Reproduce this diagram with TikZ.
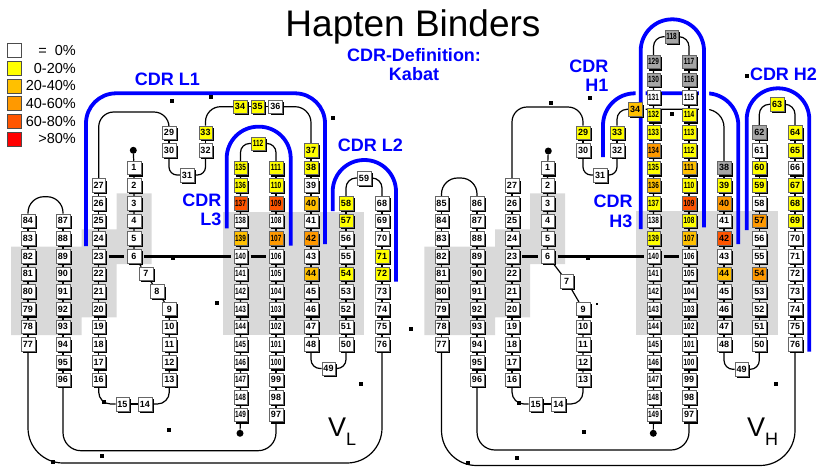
\documentclass[tikz,border=0pt]{standalone}
\usepackage{fontspec}
\setmainfont{Liberation Sans}
\usetikzlibrary{shadows}

\definecolor{c0}{HTML}{FFFFFF}
\definecolor{c20}{HTML}{FFFF00}
\definecolor{c40}{HTML}{FFC000}
\definecolor{c60}{HTML}{FF9900}
\definecolor{c80}{HTML}{FF5500}
\definecolor{c100}{HTML}{FF0000}
\definecolor{cna}{HTML}{A6A6A6}
\definecolor{cdrblue}{HTML}{0000FF}

\pgfdeclarelayer{background}
\pgfsetlayers{background,main}
\newcommand\lbl[1]{\ifnum#1>99 \scalebox{0.72}[1]{#1}\else#1\fi}

\begin{document}
\begin{tikzpicture}[x=1pt, y=-1pt,
    res/.style={draw=black!60, line width=0.5pt, fill=c0, minimum width=13.5pt, minimum height=13.5pt, inner sep=0pt, font=\fontsize{9}{9}\selectfont\bfseries, drop shadow={shadow xshift=2pt, shadow yshift=-2pt, fill=black, opacity=1}},
    keybox/.style={draw=black!70, line width=0.6pt, minimum size=14pt, inner sep=0pt},
    keytext/.style={anchor=east, font=\fontsize{14.5}{15}\selectfont, inner sep=0pt},
    link/.style={line width=1.2pt},
    bond/.style={line width=3pt, shorten <=3pt, shorten >=3pt},
    cdrline/.style={cdrblue, line width=3.8pt},
    cdrlabel/.style={cdrblue, font=\fontsize{18}{19.5}\selectfont\bfseries, align=right, inner sep=0pt},
    region/.style={fill=black!15},
    terminus/.style={circle, fill=black, minimum size=7pt, inner sep=0pt},
    speck/.style={fill=black, minimum size=4pt, inner sep=0pt}
  ]
    \useasboundingbox (0,0) rectangle (825,467);
    \node[font=\fontsize{37}{38}\selectfont, anchor=base] (title) at (413,36.7) {Hapten Binders};

    \foreach \c/\txt [count=\k from 0] in {c0/{=\ \ 0\%}, c20/0-20\%, c40/20-40\%, c60/40-60\%, c80/60-80\%, c100/{>80\%}} {
      \node[keybox, fill=\c] (key\k) at (14.5,{50.5+17.7*\k}) {};
      \node[keytext] (keytext\k) at (76,{50.5+17.7*\k}) {\txt};
    }

    \node[cdrlabel, align=center] (defn) at (414,64.5) {CDR-Definition:\\Kabat};
    \node[cdrlabel] (cdrL1) at (167.3,79) {CDR L1};
    \node[cdrlabel] (cdrL2) at (370.3,145.7) {CDR L2};
    \node[cdrlabel, anchor=east] (cdrL3) at (221.5,210) {CDR\\L3};
    \node[cdrlabel, anchor=east] (cdrH1) at (608.5,75.7) {CDR\\H1};
    \node[cdrlabel, anchor=east] (cdrH3) at (632.7,211.2) {CDR\\H3};
    \node[cdrlabel] (cdrH2) at (783.5,74) {CDR H2};
    \node[anchor=base west, inner sep=0pt, font=\fontsize{27}{28}\selectfont] (vl) at (328,436.7) {V\raisebox{-8.3pt}{\fontsize{18}{18}\selectfont L}};
    \node[anchor=base west, inner sep=0pt, font=\fontsize{27}{28}\selectfont] (vh) at (747,436.7) {V\raisebox{-8.3pt}{\fontsize{18}{18}\selectfont H}};

    % V_L
    \foreach \n [count=\i from -2] in {84,...,77} \node[res] (L\n) at (28,{256+17.65*(\i)}) {\lbl{\n}};
    \foreach \n [count=\i from -2] in {87,...,96} \node[res] (L\n) at (63,{256+17.65*(\i)}) {\lbl{\n}};
    \foreach \n [count=\i from -4] in {27,...,16} \node[res] (L\n) at (98.7,{256+17.65*(\i)}) {\lbl{\n}};
    \foreach \n [count=\i from -5] in {1,...,6} \node[res] (L\n) at (134,{256+17.65*(\i)}) {\lbl{\n}};
    \node[res] (L7) at (146,273.65) {7};
    \node[res] (L8) at (157,291.3) {8};
    \foreach \n [count=\i from 3] in {9,...,13} \node[res] (L\n) at (169.3,{256+17.65*(\i)}) {\lbl{\n}};
    \node[res] (L14) at (145,404) {14};
    \node[res] (L15) at (122.5,404) {15};
    \node[res] (L29) at (169,132.7) {29};
    \node[res] (L30) at (169,150.3) {30};
    \node[res] (L31) at (187,175) {31};
    \node[res] (L32) at (205.5,150.3) {32};
    \node[res, fill=c20] (L33) at (205.5,132.7) {33};
    \node[res, fill=c20] (L34) at (240,106.7) {34};
    \node[res, fill=c20] (L35) at (257.5,106.7) {35};
    \node[res] (L36) at (275.3,106.7) {36};
    \node[res, fill=c20] (L112) at (258,143.5) {\lbl{112}};
    \foreach \n/\c [count=\i from -5] in {135/c20,136/c20,137/c80,138/c0,139/c40,140/c0,141/c0,142/c0,143/c0,144/c0,145/c0,146/c0,147/c0,148/c0,149/c0}
      \node[res, fill=\c] (L\n) at (240.5,{256+17.65*(\i)}) {\lbl{\n}};
    \foreach \n/\c [count=\i from -5] in {111/c20,110/c20,109/c80,108/c0,107/c60,106/c0,105/c0,104/c0,103/c0,102/c0,101/c0,100/c0,99/c0,98/c0,97/c0}
      \node[res, fill=\c] (L\n) at (276,{256+17.65*(\i)}) {\lbl{\n}};
    \foreach \n/\c [count=\i from -6] in {37/c20,38/c20,39/c0,40/c40,41/c0,42/c60,43/c0,44/c40,45/c0,46/c0,47/c0,48/c0}
      \node[res, fill=\c] (L\n) at (311,{256+17.65*(\i)}) {\lbl{\n}};
    \node[res] (L49) at (328.5,368.5) {49};
    \foreach \n/\c [count=\i from -3] in {58/c20,57/c20,56/c0,55/c0,54/c20,53/c0,52/c0,51/c0,50/c0}
      \node[res, fill=\c] (L\n) at (346,{256+17.65*(\i)}) {\lbl{\n}};
    \node[res] (L59) at (364,178) {59};
    \foreach \n/\c [count=\i from -3] in {68/c0,69/c0,70/c0,71/c20,72/c20,73/c0,74/c0,75/c0,76/c0}
      \node[res, fill=\c] (L\n) at (382,{256+17.65*(\i)}) {\lbl{\n}};
    \node[terminus] (Ltop) at (133.3,150.3) {};
    \node[terminus] (Lend) at (240,433.3) {};

    % V_H
    \foreach \n [count=\i from -3] in {85,...,77} \node[res] (H\n) at (441.5,{256+17.65*(\i)}) {\lbl{\n}};
    \foreach \n [count=\i from -3] in {86,...,96} \node[res] (H\n) at (477,{256+17.65*(\i)}) {\lbl{\n}};
    \foreach \n [count=\i from -4] in {27,...,16} \node[res] (H\n) at (512,{256+17.65*(\i)}) {\lbl{\n}};
    \foreach \n [count=\i from -5] in {1,...,6} \node[res] (H\n) at (547.5,{256+17.65*(\i)}) {\lbl{\n}};
    \node[res] (H7) at (566.7,281) {7};
    \foreach \n [count=\i from 3] in {9,...,13} \node[res] (H\n) at (583,{256+17.65*(\i)}) {\lbl{\n}};
    \node[res] (H14) at (558.3,404) {14};
    \node[res] (H15) at (535.7,404) {15};
    \node[res, fill=c20] (H29) at (583,132.7) {29};
    \node[res] (H30) at (583,150.3) {30};
    \node[res] (H31) at (600,175) {31};
    \node[res] (H32) at (617,150.3) {32};
    \node[res, fill=c20] (H33) at (617,132.7) {33};
    \node[res, fill=c40] (H34) at (635,109.3) {34};
    \node[res, fill=cna] (H118) at (671.5,36.7) {\lbl{118}};
    \foreach \n/\c [count=\i from -11] in {129/cna,130/cna,131/c0,132/c20,133/c20,134/c60,135/c20,136/c40,137/c20,138/c0,139/c20,140/c0,141/c0,142/c0,143/c0,144/c0,145/c0,146/c0,147/c0,148/c0,149/c0}
      \node[res, fill=\c] (H\n) at (653.5,{256+17.65*(\i)}) {\lbl{\n}};
    \foreach \n/\c [count=\i from -11] in {117/cna,116/cna,115/c0,114/c20,113/c20,112/c20,111/c40,110/c20,109/c80,108/c20,107/c40,106/c0,105/c0,104/c0,103/c0,102/c0,101/c0,100/c0,99/c0,98/c0,97/c0}
      \node[res, fill=\c] (H\n) at (689,{256+17.65*(\i)}) {\lbl{\n}};
    \foreach \n/\c [count=\i from -5] in {38/cna,39/c20,40/c60,41/c0,42/c80,43/c0,44/c40,45/c0,46/c0,47/c0,48/c0}
      \node[res, fill=\c] (H\n) at (724,{256+17.65*(\i)}) {\lbl{\n}};
    \node[res] (H49) at (741.7,369.3) {49};
    \foreach \n/\c [count=\i from -7] in {62/cna,61/c0,60/c20,59/c20,58/c0,57/c60,56/c0,55/c0,54/c60,53/c0,52/c0,51/c0,50/c0}
      \node[res, fill=\c] (H\n) at (759.3,{256+17.65*(\i)}) {\lbl{\n}};
    \node[res, fill=c20] (H63) at (777,104.3) {63};
    \foreach \n/\c [count=\i from -7] in {64/c20,65/c20,66/c0,67/c20,68/c20,69/c20,70/c0,71/c0,72/c0,73/c0,74/c0,75/c0,76/c0}
      \node[res, fill=\c] (H\n) at (795,{256+17.65*(\i)}) {\lbl{\n}};
    \node[terminus] (Htop) at (548.3,151) {};
    \node[terminus] (Hend) at (653.3,433.3) {};

    \foreach \x/\y [count=\k] in {171.7/100.7, 210.7/96.7, 332.7/117.7, 173/258.3, 217.3/302.7, 410.7/329.3, 360.7/384, 104.3/401.7, 169.3/430, 102.3/456, 52.7/461.7,
        551/102.7, 590/97.7, 672.3/114.3, 746.7/76, 588.3/258.3, 519.3/403.3, 775.7/384, 584.3/431.7, 517.3/457.7, 468.3/463.3}
      \node[speck] (s\k) at (\x,\y) {};
    \node[fill=black, minimum size=2pt, inner sep=0pt] (s22) at (597.3,304) {};

    \begin{pgfonlayer}{background}
      \foreach \dx in {0,413.3}
        \fill[region, shift={(\dx,0)}] (11,246.7) -- (81.7,246.7) -- (81.7,229.3) -- (116.7,229.3) -- (116.7,193.3) -- (151.7,193.3) -- (151.7,264) -- (116.7,264) -- (116.7,317.3) -- (81.7,317.3) -- (81.7,335) -- (11,335) -- cycle;
      \fill[region] (222.7,211.7) rectangle (364,335);
      \fill[region] (635.7,210.7) rectangle (777.7,335);

      \draw[link] (L84) -- (L77);
      \draw[link] (L87) -- (L96);
      \draw[link] (L27) -- (L16);
      \draw[link] (Ltop) -- (L1) -- (L6) -- (L7) -- (L8) -- (L9) -- (L13);
      \draw[link] (L29) -- (L30);
      \draw[link] (L32) -- (L33);
      \draw[link] (L34) -- (L36);
      \draw[link] (L135) -- (L149) -- (Lend);
      \draw[link] (L111) -- (L97);
      \draw[link] (L37) -- (L48);
      \draw[link] (L58) -- (L50);
      \draw[link] (L68) -- (L76);
      \draw[link] (L15) -- (L14);
      \draw[link, rounded corners=16pt] (L84.north) |- (L87.north |- 0,196.7) -- (L87.north);
      \draw[link, rounded corners=35pt] (L77.south) |- (L76.south |- 0,463) -- (L76.south);
      \draw[link, rounded corners=18pt] (L96.south) |- (L97.south |- 0,450.7) -- (L97.south);
      \draw[link, rounded corners=12pt] (L16.south) |- (L15.west);
      \draw[link, rounded corners=12pt] (L14.east) -| (L13.south);
      \draw[link, rounded corners=15pt] (L27.north) |- (L29.north |- 0,112) -- (L29.north);
      \draw[link, rounded corners=8pt] (L30.south) |- (L31.west);
      \draw[link, rounded corners=8pt] (L31.east) -| (L32.south);
      \draw[link, rounded corners=15pt] (L33.north) |- (L34.west);
      \draw[link, rounded corners=16pt] (L36.east) -| (L37.north);
      \draw[link, rounded corners=9pt] (L135.north) |- (L112.west);
      \draw[link, rounded corners=9pt] (L112.east) -| (L111.north);
      \draw[link, rounded corners=9pt] (L48.south) |- (L49.west);
      \draw[link, rounded corners=9pt] (L49.east) -| (L50.south);
      \draw[link, rounded corners=10pt] (L58.north) |- (L59.west);
      \draw[link, rounded corners=10pt] (L59.east) -| (L68.north);
      \draw[bond] (L23) -- (L6);
      \draw[bond] (L6) -- (L140);
      \draw[bond] (L140) -- (L106);

      \draw[link] (H85) -- (H77);
      \draw[link] (H86) -- (H96);
      \draw[link] (H27) -- (H16);
      \draw[link] (Htop) -- (H1) -- (H6) -- (H7) -- (H9) -- (H13);
      \draw[link] (H29) -- (H30);
      \draw[link] (H32) -- (H33);
      \draw[link] (H129) -- (H149) -- (Hend);
      \draw[link] (H117) -- (H97);
      \draw[link] (H38) -- (H48);
      \draw[link] (H62) -- (H50);
      \draw[link] (H64) -- (H76);
      \draw[link] (H15) -- (H14);
      \draw[link, rounded corners=16pt] (H85.north) |- (H86.north |- 0,178) -- (H86.north);
      \draw[link, rounded corners=35pt] (H77.south) |- (H76.south |- 0,465.5) -- (H76.south);
      \draw[link, rounded corners=18pt] (H96.south) |- (H97.south |- 0,450) -- (H97.south);
      \draw[link, rounded corners=12pt] (H16.south) |- (H15.west);
      \draw[link, rounded corners=12pt] (H14.east) -| (H13.south);
      \draw[link, rounded corners=15pt] (H27.north) |- (H29.north |- 0,107) -- (H29.north);
      \draw[link, rounded corners=8pt] (H30.south) |- (H31.west);
      \draw[link, rounded corners=8pt] (H31.east) -| (H32.south);
      \draw[link, rounded corners=10pt] (H33.north) |- (H34.west);
      \draw[link, rounded corners=18pt] (H34.east) -| (H38.north);
      \draw[link, rounded corners=10pt] (H129.north) |- (H118.west);
      \draw[link, rounded corners=10pt] (H118.east) -| (H117.north);
      \draw[link, rounded corners=10pt] (H62.north) |- (H63.west);
      \draw[link, rounded corners=10pt] (H63.east) -| (H64.north);
      \draw[link, rounded corners=9pt] (H48.south) |- (H49.west);
      \draw[link, rounded corners=9pt] (H49.east) -| (H50.south);
      \draw[bond] (H23) -- (H6);
      \draw[bond] (H6) -- (H140);
      \draw[bond] (H140) -- (H106);

      \draw[cdrline, rounded corners=30pt] (86,246) |- (325,93.3) -- (325,244);
      \draw[cdrline, rounded corners=31.5pt] (226.7,228.3) |- (290.7,126.7) -- (290.7,245.7);
      \draw[cdrline, rounded corners=31.5pt] (332.7,211) |- (396,160) -- (396,281.7);
      \draw[cdrline, rounded corners=32pt] (603,157) |- (738.3,93.3) -- (738.3,244);
      \draw[white, line width=10pt, rounded corners=31.5pt] (640.7,150) |- (704,19.3) -- (704,150);
      \draw[cdrline, rounded corners=31.5pt] (640.7,229) |- (704,19.3) -- (704,227.3);
      \draw[cdrline, rounded corners=31pt] (746.7,230) |- (809.3,88.3) -- (809.3,351.7);
    \end{pgfonlayer}
\end{tikzpicture}
\end{document}
